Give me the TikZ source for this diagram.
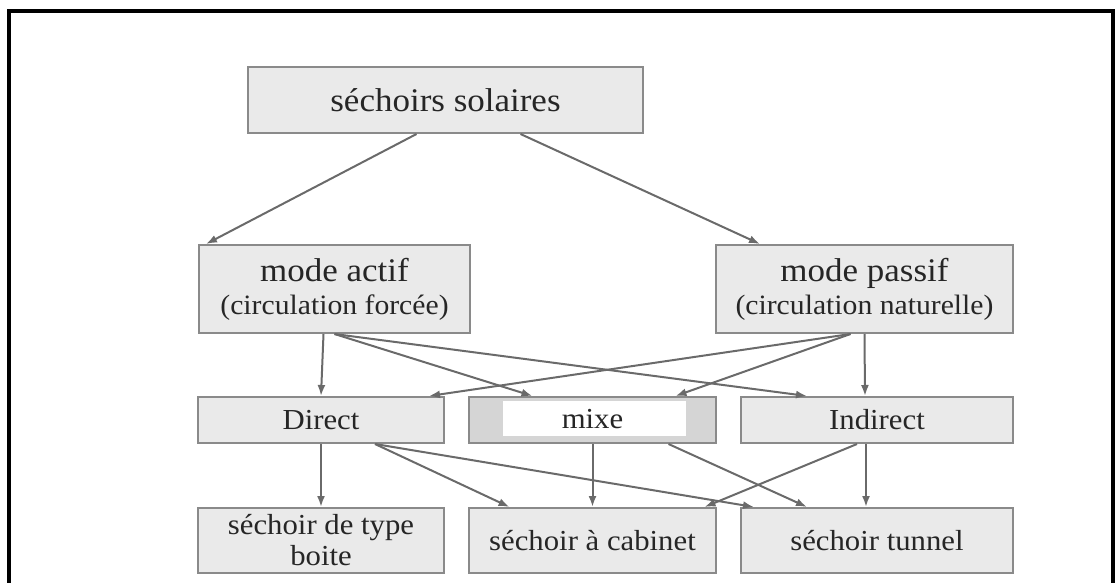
\documentclass[tikz,border=0pt]{standalone}
\usepackage{fontspec}
\setmainfont[FakeStretch=1.06]{Liberation Serif}
\usepackage{xcolor}
\usetikzlibrary{shapes,arrows,positioning,calc,arrows.meta}

\definecolor{boxfill}{HTML}{EAEAEA}
\definecolor{boxline}{HTML}{8A8A8A}
\definecolor{arrline}{HTML}{6A6A6A}
\definecolor{txtcol}{HTML}{262626}

\tikzset{
    box/.style={draw=boxline, line width=2pt, fill=boxfill, text=txtcol,
        inner sep=0pt, align=center, font=\fontsize{29}{30}\selectfont},
    topbox/.style={box, font=\fontsize{33}{35}\selectfont},
    mixbox/.style={box, fill=boxfill!80!gray,
        path picture={\fill[white] ([shift={(34pt,-4pt)}]path picture bounding box.north west)
            rectangle ([shift={(-30pt,7pt)}]path picture bounding box.south east);}},
    arr/.style={draw=arrline, line width=2pt, -{Latex[length=11pt,width=8pt]}}
}

\begin{document}
\begin{tikzpicture}[x=1pt, y=-1pt]
    \useasboundingbox (0,0) rectangle (1120,582);
    \clip (0,0) rectangle (1120,582);

    % frame
    \draw[line width=3.5pt] (9,600) -- (9,11) -- (1113,11) -- (1113,600);

    % boxes
    \node[topbox, minimum width=395pt, minimum height=66pt] (solaires) at (445.5,100) {séchoirs solaires};
    \node[topbox, minimum width=271pt, minimum height=88pt] (actif) at (334.5,289)
        {mode actif\\[-2pt]{\fontsize{28}{30}\selectfont (circulation forcée)}};
    \node[topbox, minimum width=297pt, minimum height=88pt] (passif) at (864.5,289)
        {mode passif\\[-2pt]{\fontsize{28}{30}\selectfont (circulation naturelle)}};

    \node[box, minimum width=246pt, minimum height=46pt] (direct) at (321,420) {Direct};
    \node[mixbox, minimum width=247pt, minimum height=46pt] (mixe) at (592.5,420) {\raisebox{3pt}{mixe}};
    \node[box, minimum width=272pt, minimum height=46pt] (indirect) at (877,420) {Indirect};

    \node[box, minimum width=246pt, minimum height=65pt] (boite) at (321,540.5) {séchoir de type\\[1pt]boite};
    \node[box, minimum width=247pt, minimum height=65pt] (cabinet) at (592.5,540.5) {séchoir à cabinet};
    \node[box, minimum width=272pt, minimum height=65pt] (tunnel) at (877,540.5) {séchoir tunnel};

    % first level
    \draw[arr] ([xshift=-29pt]solaires.south) -- ([xshift=8pt]actif.north west);
    \draw[arr] ([xshift=75pt]solaires.south) -- ([xshift=45pt]passif.north west);

    % mode actif / passif
    \draw[arr] ([xshift=-11pt]actif.south) -- (direct.north);
    \draw[arr] (actif.south) -- ([xshift=-60pt]mixe.north);
    \draw[arr] (actif.south) -- ([xshift=-70pt]indirect.north);
    \draw[arr] ([xshift=-14pt]passif.south) -- ([xshift=108pt]direct.north);
    \draw[arr] ([xshift=-14pt]passif.south) -- ([xshift=83pt]mixe.north);
    \draw[arr] (passif.south) -- ([xshift=-12pt]indirect.north);

    % direct / mixe / indirect
    \draw[arr] (direct.south) -- (boite.north);
    \draw[arr] ([xshift=54pt]direct.south) -- ([xshift=-83pt]cabinet.north);
    \draw[arr] ([xshift=54pt]direct.south) -- ([xshift=-123pt]tunnel.north);
    \draw[arr] (mixe.south) -- (cabinet.north);
    \draw[arr] ([xshift=76pt]mixe.south) -- ([xshift=-70pt]tunnel.north);
    \draw[arr] ([xshift=-20pt]indirect.south) -- ([xshift=112pt]cabinet.north);
    \draw[arr] ([xshift=-11pt]indirect.south) -- ([xshift=-11pt]tunnel.north);
\end{tikzpicture}
\end{document}
